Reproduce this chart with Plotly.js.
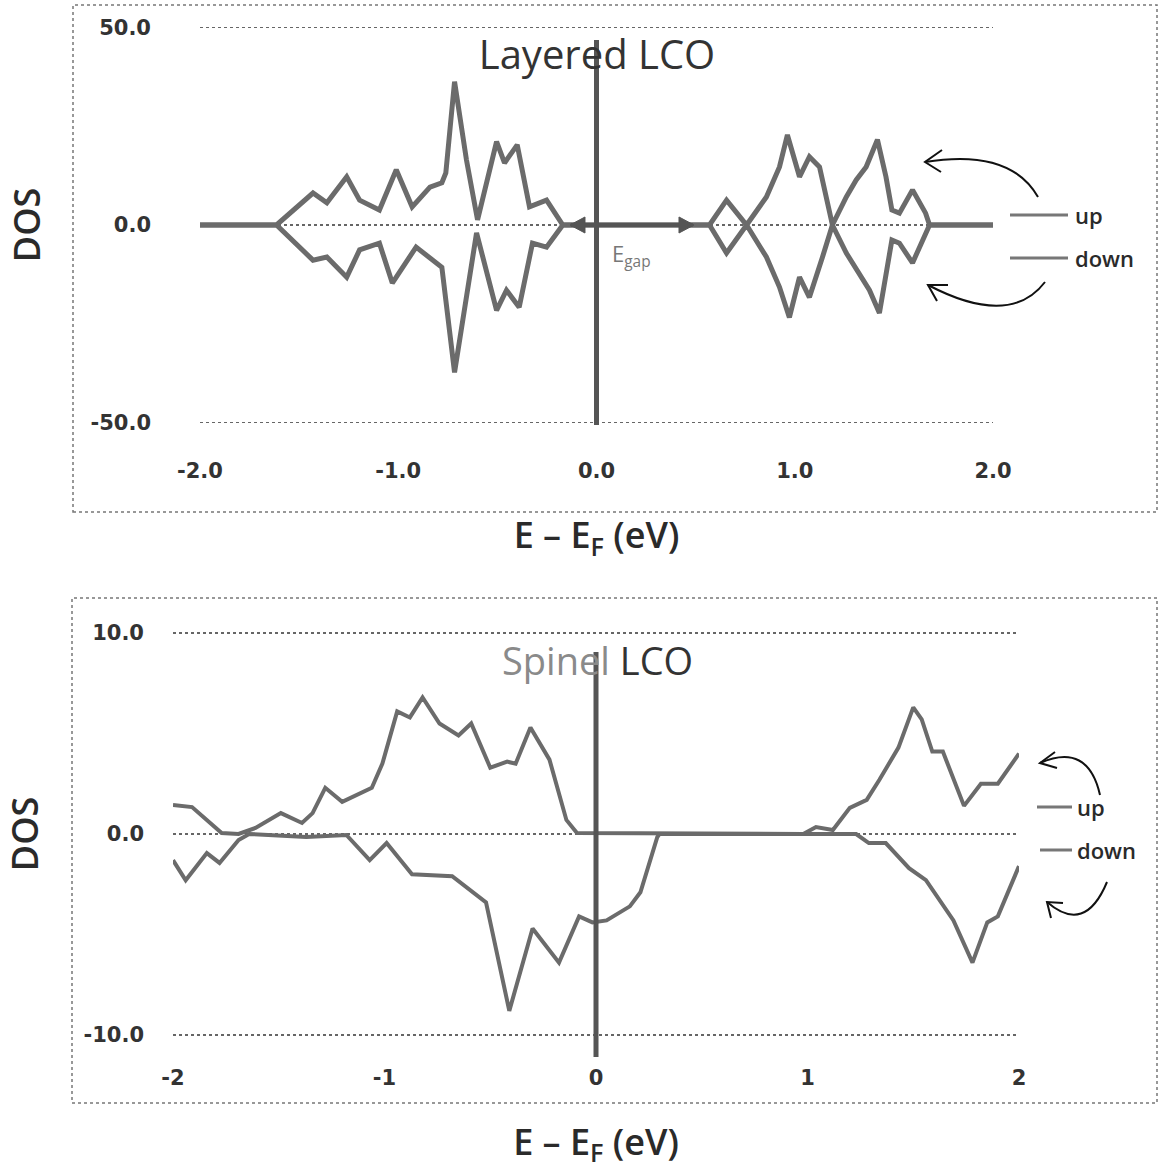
<!DOCTYPE html>
<html>
<head>
<meta charset="utf-8">
<script src="https://cdn.plot.ly/plotly-3.0.1.min.js"></script>
<style>html,body{margin:0;padding:0;background:#fff;}#chart{width:1160px;height:1170px;}</style>
</head>
<body>
<div id="chart"></div>
<script>
// ---------- DATA ----------
// Layered LCO (top panel)
const layeredUpE = [-2.0,-1.614,-1.43,-1.36,-1.26,-1.195,-1.095,-1.01,-0.93,-0.84,-0.78,-0.76,-0.716,-0.656,-0.60,-0.504,-0.464,-0.40,-0.338,-0.252,-0.17,0.57,0.656,0.757,0.857,0.923,0.963,1.024,1.074,1.125,1.19,1.26,1.31,1.36,1.417,1.46,1.49,1.528,1.594,1.66,1.68,2.0];
const layeredUpDOS = [0,0,8.1,5.6,12.2,6.3,3.8,14.0,4.6,9.6,10.7,13.2,36.3,16.5,1.3,21.1,15.7,20.3,4.6,6.3,0,0,6.3,0,7.1,14.7,22.8,12.2,17.3,14.7,0,7.1,11.4,14.7,21.6,12.2,3.8,3.0,8.9,3.0,0,0];
const layeredDownE = [-2.0,-1.614,-1.43,-1.36,-1.26,-1.195,-1.095,-1.03,-0.91,-0.83,-0.78,-0.716,-0.656,-0.605,-0.504,-0.454,-0.39,-0.323,-0.252,-0.17,0.57,0.656,0.757,0.857,0.923,0.973,1.024,1.074,1.14,1.19,1.26,1.327,1.377,1.427,1.49,1.528,1.594,1.68,2.0];
const layeredDownDOS = [0,0,-8.9,-8.1,-13.2,-6.3,-4.6,-14.7,-5.6,-8.9,-10.7,-37.3,-17.3,-2.0,-21.6,-16.5,-20.8,-4.6,-5.6,0,0,-7.1,0,-8.1,-15.7,-23.4,-13.2,-18.3,-8.1,0,-7.1,-12.2,-16.5,-22.3,-3.8,-4.6,-9.6,0,0];

// Spinel LCO (bottom panel)
const spinelUpE = [-2.0,-1.91,-1.77,-1.69,-1.61,-1.49,-1.39,-1.34,-1.28,-1.20,-1.06,-1.01,-0.94,-0.88,-0.82,-0.74,-0.65,-0.59,-0.50,-0.42,-0.38,-0.31,-0.22,-0.14,-0.09,0.98,1.04,1.12,1.20,1.28,1.34,1.43,1.50,1.54,1.59,1.64,1.74,1.82,1.90,2.0];
const spinelUpDOS = [1.44,1.34,0.05,0.0,0.3,1.04,0.55,1.04,2.3,1.6,2.3,3.5,6.1,5.8,6.8,5.5,4.9,5.5,3.3,3.6,3.5,5.3,3.7,0.7,0.05,0,0.35,0.2,1.3,1.7,2.7,4.3,6.3,5.7,4.1,4.1,1.4,2.5,2.5,4.0];
const spinelDownE = [-2.0,-1.94,-1.84,-1.78,-1.69,-1.64,-1.37,-1.18,-1.07,-0.99,-0.87,-0.68,-0.52,-0.41,-0.30,-0.175,-0.08,-0.017,0.05,0.16,0.21,0.29,0.30,1.23,1.29,1.37,1.48,1.56,1.69,1.78,1.85,1.90,2.0];
const spinelDownDOS = [-1.3,-2.3,-0.95,-1.44,-0.3,0,-0.15,-0.05,-1.3,-0.45,-2.0,-2.1,-3.4,-8.8,-4.7,-6.4,-4.1,-4.4,-4.3,-3.6,-2.9,-0.15,0,0,-0.45,-0.45,-1.7,-2.3,-4.3,-6.4,-4.4,-4.1,-1.6];

// Tick labels
const topXTicks = [-2,-1,0,1,2];
const topXLabels = ['-2.0','-1.0','0.0','1.0','2.0'];
const topYTicks = [-50,0,50];
const topYLabels = ['-50.0','0.0','50.0'];
const botXTicks = [-2,-1,0,1,2];
const botXLabels = ['-2','-1','0','1','2'];
const botYTicks = [-10,0,10];
const botYLabels = ['-10.0','0.0','10.0'];
const seriesNames = ['up','down'];
const gapStart = -0.13, gapEnd = 0.485;

// ---------- HELPERS ----------
const W = 1160, H = 1170;
const px = x => x / W;
const py = y => 1 - y / H;
function pathPx(cmds) {
  return cmds.map(c => c[0] + (c.length > 1 ? ' ' + c.slice(1).map((v, i) => i % 2 === 0 ? px(v).toFixed(5) : py(v).toFixed(5)).join(' ') : '')).join(' ');
}

const lineGray = '#6b6b6b';
const textDark = '#2a2a2a';

const traces = [
  {x: layeredUpE, y: layeredUpDOS, name: seriesNames[0], xaxis: 'x', yaxis: 'y', mode: 'lines', line: {color: lineGray, width: 5}},
  {x: layeredDownE, y: layeredDownDOS, name: seriesNames[1], xaxis: 'x', yaxis: 'y', mode: 'lines', line: {color: lineGray, width: 5}},
  {x: spinelUpE, y: spinelUpDOS, name: seriesNames[0], xaxis: 'x2', yaxis: 'y2', mode: 'lines', line: {color: lineGray, width: 4}},
  {x: spinelDownE, y: spinelDownDOS, name: seriesNames[1], xaxis: 'x2', yaxis: 'y2', mode: 'lines', line: {color: lineGray, width: 4}}
];

const tickFont = {family: 'DejaVu Sans', size: 21, color: '#333', weight: 'bold'};
const gridCommon = {showgrid: true, griddash: 'dot', gridcolor: '#666', gridwidth: 1.5, zeroline: false, showline: false, ticks: ''};

const shapes = [];
// frames
shapes.push({type: 'rect', xref: 'paper', yref: 'paper', x0: px(73), x1: px(1157), y0: py(512), y1: py(5), line: {color: '#777', width: 1.5, dash: 'dot'}});
shapes.push({type: 'rect', xref: 'paper', yref: 'paper', x0: px(72), x1: px(1157), y0: py(1103), y1: py(598), line: {color: '#777', width: 1.5, dash: 'dot'}});
// E_F vertical lines
shapes.push({type: 'line', xref: 'x', yref: 'paper', x0: 0, x1: 0, y0: py(425), y1: py(40), line: {color: '#555', width: 5}});
shapes.push({type: 'line', xref: 'x2', yref: 'paper', x0: 0, x1: 0, y0: py(1057), y1: py(652), line: {color: '#555', width: 5}});
// E_gap double arrow
shapes.push({type: 'line', xref: 'x', yref: 'y', x0: gapStart, x1: gapEnd, y0: 0, y1: 0, line: {color: '#555', width: 4}});
shapes.push({type: 'path', xref: 'paper', yref: 'paper', path: pathPx([['M',694,225],['L',679,217],['L',679,233],['Z']]), fillcolor: '#555', line: {color: '#555', width: 1}});
shapes.push({type: 'path', xref: 'paper', yref: 'paper', path: pathPx([['M',570,225],['L',585,217],['L',585,233],['Z']]), fillcolor: '#555', line: {color: '#555', width: 1}});
// legend sample lines
[[1010,1068,215],[1010,1068,258],[1037,1072,807],[1040,1072,850]].forEach(l => {
  shapes.push({type: 'line', xref: 'paper', yref: 'paper', x0: px(l[0]), x1: px(l[1]), y0: py(l[2]), y1: py(l[2]), line: {color: '#777', width: 3}});
});
// curved pointer arrows
const arrows = [
  {curve: [['M',1038,197],['Q',1010,148,925,162]], head: [['M',942,150],['L',925,162],['L',941,172]]},
  {curve: [['M',1045,282],['Q',1010,328,928,285]], head: [['M',948,285],['L',928,285],['L',937,301]]},
  {curve: [['M',1100,795],['Q',1088,742,1040,763]], head: [['M',1055,752],['L',1040,763],['L',1057,768]]},
  {curve: [['M',1107,882],['Q',1085,935,1047,902]], head: [['M',1063,903],['L',1047,902],['L',1051,918]]}
];
arrows.forEach(a => {
  shapes.push({type: 'path', xref: 'paper', yref: 'paper', path: pathPx(a.curve), line: {color: '#111', width: 2}});
  shapes.push({type: 'path', xref: 'paper', yref: 'paper', path: pathPx(a.head), line: {color: '#111', width: 2}});
});

const axisTitleFont = {family: 'Open Sans', size: 36, color: textDark, weight: 600};
const legendFont = {family: 'Open Sans', size: 22, color: textDark, weight: 600};

const annotations = [
  {xref: 'paper', yref: 'paper', x: px(597), y: py(660), text: '<span style="color:#8a8a8a">Spinel</span> LCO', showarrow: false, font: {family: 'Open Sans', size: 38, color: '#333'}, xanchor: 'center', yanchor: 'middle'},
  {xref: 'paper', yref: 'paper', x: px(610), y: py(255), text: 'E<sub>gap</sub>', showarrow: false, font: {family: 'Open Sans', size: 22, color: '#777'}, xanchor: 'left', yanchor: 'middle'},
  {xref: 'paper', yref: 'paper', x: px(1073), y: py(215), text: seriesNames[0], showarrow: false, font: legendFont, xanchor: 'left', yanchor: 'middle'},
  {xref: 'paper', yref: 'paper', x: px(1073), y: py(258), text: seriesNames[1], showarrow: false, font: legendFont, xanchor: 'left', yanchor: 'middle'},
  {xref: 'paper', yref: 'paper', x: px(1075), y: py(807), text: seriesNames[0], showarrow: false, font: legendFont, xanchor: 'left', yanchor: 'middle'},
  {xref: 'paper', yref: 'paper', x: px(1075), y: py(850), text: seriesNames[1], showarrow: false, font: legendFont, xanchor: 'left', yanchor: 'middle'}
];

const xTitle = 'E – E<sub>F</sub> (eV)';
const yTitle = 'DOS';

const layout = {
  width: W, height: H,
  margin: {l: 0, r: 0, t: 0, b: 0},
  paper_bgcolor: '#fff', plot_bgcolor: '#fff',
  showlegend: false,
  title: {text: 'Layered LCO', font: {family: 'Open Sans', size: 40, color: '#333'}, xref: 'paper', yref: 'paper', x: px(597), xanchor: 'center', y: py(55), yanchor: 'middle'},
  xaxis: {domain: [px(200), px(993)], range: [-2, 2], anchor: 'y', tickvals: topXTicks, ticktext: topXLabels, showgrid: false, zeroline: false, showline: false, ticks: '', ticklabelstandoff: 26, tickfont: tickFont,
          title: {text: xTitle, font: axisTitleFont, standoff: 40}},
  yaxis: Object.assign({domain: [py(430.4), py(19.6)], range: [-52, 52], anchor: 'x', tickvals: topYTicks, ticktext: topYLabels, ticklabelstandoff: 48, tickfont: tickFont,
          title: {text: yTitle, font: axisTitleFont, standoff: 38}}, gridCommon),
  xaxis2: {domain: [px(173), px(1019)], range: [-2, 2], anchor: 'y2', tickvals: botXTicks, ticktext: botXLabels, showgrid: false, zeroline: false, showline: false, ticks: '', ticklabelstandoff: 20, tickfont: tickFont,
          title: {text: xTitle, font: axisTitleFont, standoff: 40}},
  yaxis2: Object.assign({domain: [py(1043), py(625)], range: [-10.4, 10.4], anchor: 'x2', tickvals: botYTicks, ticktext: botYLabels, ticklabelstandoff: 28, tickfont: tickFont,
          title: {text: yTitle, font: axisTitleFont, standoff: 40}}, gridCommon),
  shapes: shapes,
  annotations: annotations
};

Plotly.newPlot('chart', traces, layout, {displayModeBar: false, staticPlot: true});
</script>
</body>
</html>
